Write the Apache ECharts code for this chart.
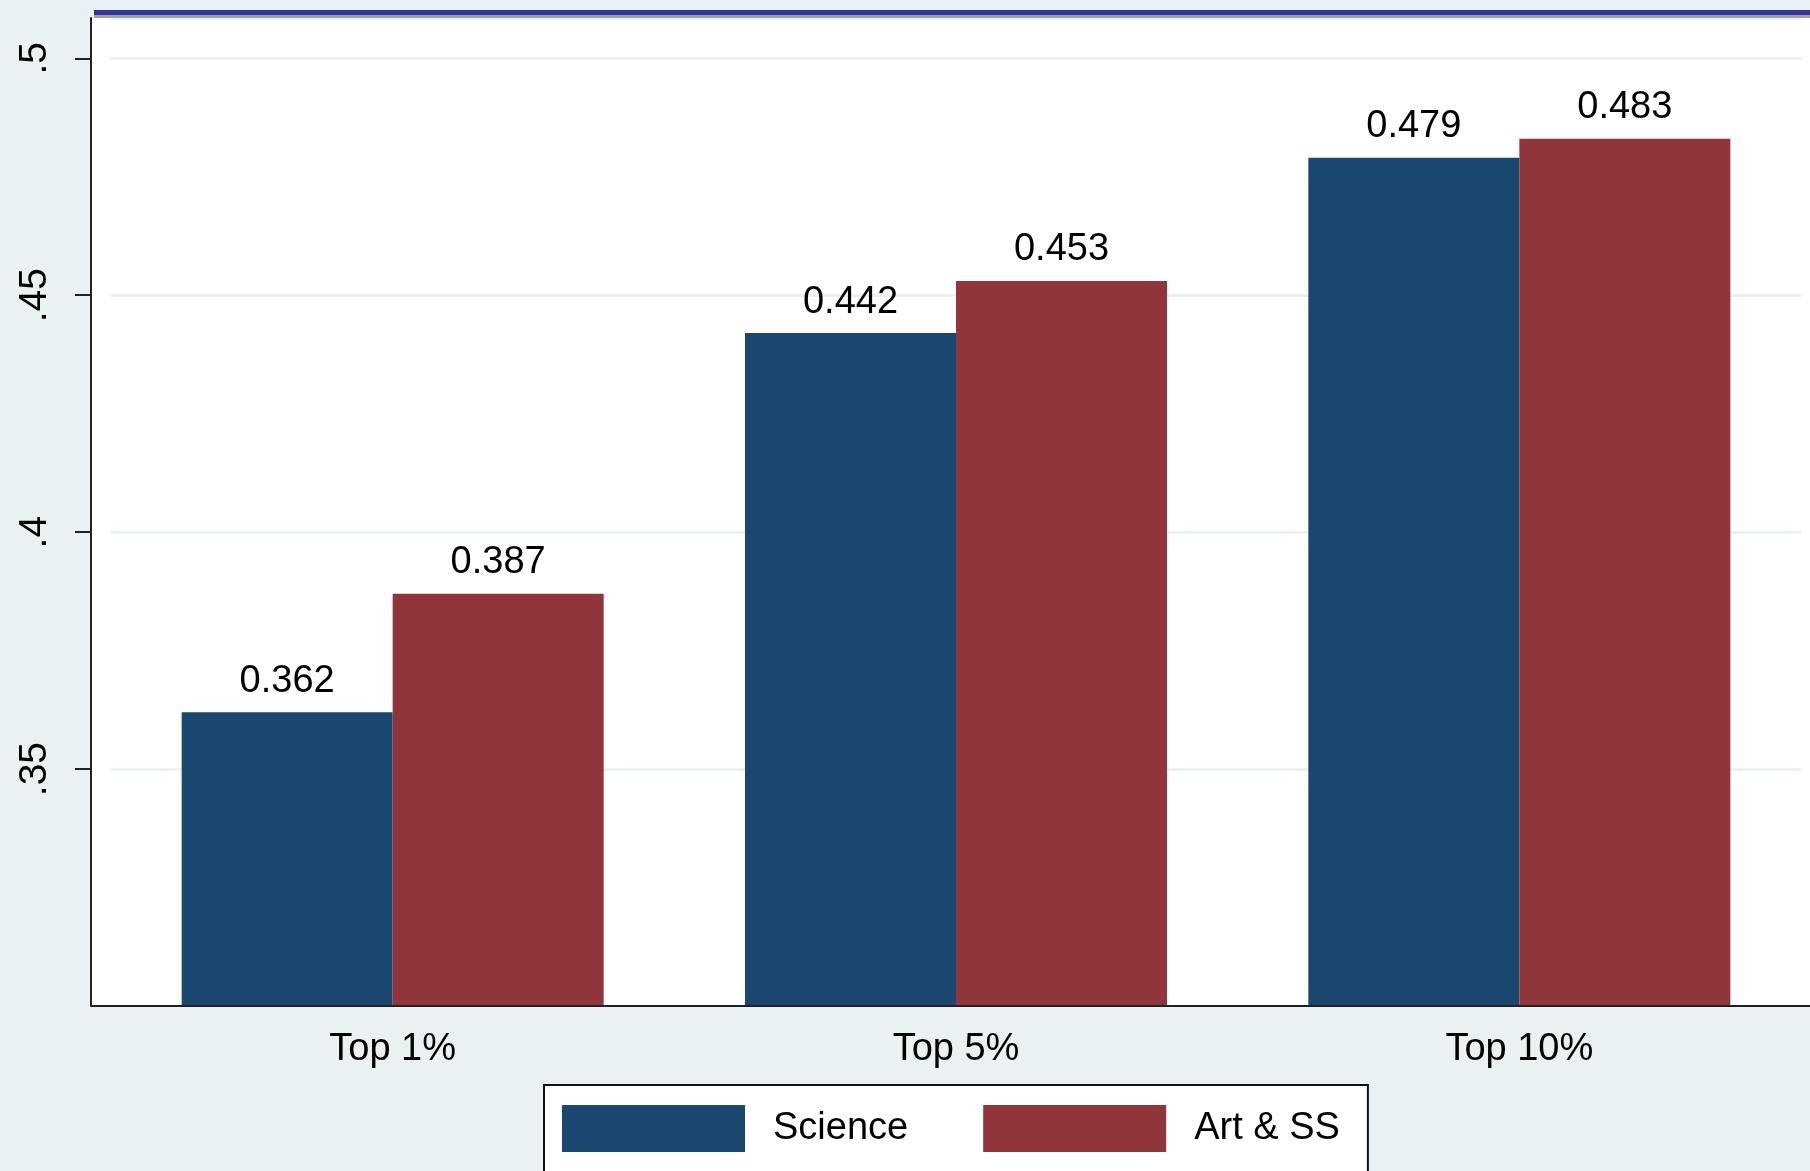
<!DOCTYPE html>
<html>
<head>
<meta charset="utf-8">
<script src="https://cdn.jsdelivr.net/npm/echarts@6/dist/echarts.min.js"></script>
<style>
html, body { margin: 0; padding: 0; background: #eaf1f3; }
#chart { width: 1810px; height: 1171px; }
</style>
</head>
<body>
<div id="chart"></div>
<script>
const categories = ['Top 1%', 'Top 5%', 'Top 10%'];
const scienceVals = [0.362, 0.442, 0.479];
const artVals = [0.387, 0.453, 0.483];
const seriesNames = ['Science', 'Art & SS'];

let chart = echarts.init(document.getElementById('chart'));
const font = 'Liberation Sans, Arial, sans-serif';

let labelStyle = {
    show: true,
    position: 'top',
    distance: 12,
    color: '#000',
    fontSize: 38,
    fontFamily: font,
    formatter: p => p.value.toFixed(3)
};

let option = {
    backgroundColor: '#eaf1f3',
    animation: false,
    color: ['#1a476f', '#90353b'],
    graphic: [
        // white plot region
        { type: 'rect', z: -10, shape: { x: 91, y: 18, width: 1719, height: 988 }, style: { fill: '#fff' } },
        { type: 'rect', z: 5, shape: { x: 94, y: 10, width: 1716, height: 5 }, style: { fill: '#34349b' } },
        { type: 'rect', z: 5, shape: { x: 94, y: 15, width: 1716, height: 3 }, style: { fill: '#a0a0a8' } },
        // frame line across the whole plot bottom
        { type: 'line', z: 20, shape: { x1: 91, y1: 1006, x2: 1810, y2: 1006 }, style: { stroke: '#222', lineWidth: 2 } }
    ],
    legend: {
        data: seriesNames,
        left: 544,
        top: 1085,
        orient: 'horizontal',
        itemWidth: 183,
        itemHeight: 47,
        itemGap: 75,
        icon: 'rect',
        backgroundColor: '#fff',
        borderColor: '#111',
        borderWidth: 2,
        borderRadius: 0,
        padding: [20, 28, 60, 18],
        textStyle: { fontSize: 38, fontFamily: font, color: '#000', padding: [14, 0, 0, 23] }
    },
    grid: { left: 111, right: 9, top: 18, bottom: 165 },
    xAxis: {
        type: 'category',
        data: categories,
        axisLine: { show: false },
        axisTick: { show: false },
        axisLabel: { color: '#000', fontSize: 38, fontFamily: font, margin: 25 }
    },
    yAxis: {
        type: 'value',
        min: 0.3,
        max: 0.5085,
        interval: 0.05,
        offset: 20,
        axisLine: { show: true, lineStyle: { color: '#222', width: 2 } },
        axisTick: { show: true, length: 16, lineStyle: { color: '#222', width: 2 } },
        axisLabel: {
            color: '#000',
            fontSize: 39,
            fontFamily: font,
            rotate: 90,
            margin: 36,
            showMinLabel: false,
            showMaxLabel: false,
            formatter: v => String(+v.toFixed(2)).replace(/^0/, '')
        },
        splitLine: { show: true, lineStyle: { color: '#eaf1f3', width: 3 } }
    },
    series: [
        { name: seriesNames[0], type: 'bar', barWidth: 211, barGap: '0%', data: scienceVals, label: labelStyle },
        { name: seriesNames[1], type: 'bar', barWidth: 211, barGap: '0%', data: artVals, label: labelStyle }
    ]
};
chart.setOption(option);
window.onresize = function () { chart.resize(); };
</script>
</body>
</html>
